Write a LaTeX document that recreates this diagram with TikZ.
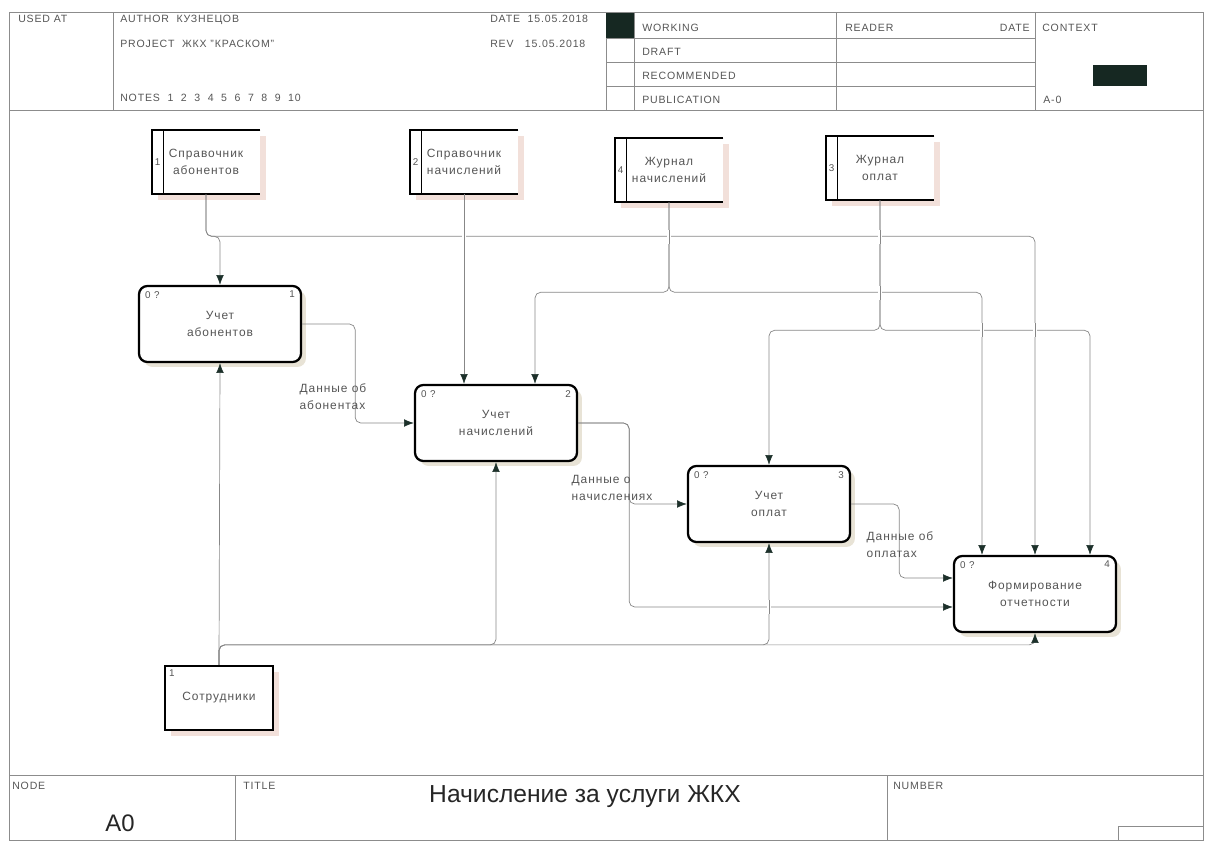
\documentclass[tikz,border=0pt]{standalone}
\usepackage{fontspec}
\setmainfont{Liberation Sans}[LetterSpace=8]
\newfontfamily\titlefont{Liberation Sans}
\usetikzlibrary{positioning, arrows.meta, calc, shadows}

\definecolor{linegray}{RGB}{135,135,135}
\definecolor{textgray}{RGB}{85,85,85}
\definecolor{tipcolor}{RGB}{28,48,42}
\definecolor{darkbox}{RGB}{22,40,34}
\definecolor{storeshade}{RGB}{242,224,218}
\definecolor{boxshade}{RGB}{232,227,214}

\begin{document}
\begin{tikzpicture}[
    x=0.025cm, y=-0.025cm,
    every node/.style={font=\fontsize{8.5}{12}\selectfont, text=textgray, inner sep=0pt},
    hdr/.style={font=\fontsize{7.5}{9}\selectfont, anchor=base west},
    idtag/.style={font=\fontsize{7}{8}\selectfont},
    sheet/.style={draw=black!45, line width=0.5pt},
    func/.style={draw=black, line width=1.6pt, rounded corners=6pt, fill=white,
                 minimum width=4.05cm, minimum height=1.9cm, align=center,
                 drop shadow={shadow xshift=3.5pt, shadow yshift=-3.5pt,
                              fill=boxshade, opacity=1}},
    store/.style={fill=white, minimum width=2.7cm, minimum height=1.6cm, align=center,
                  drop shadow={shadow xshift=4pt, shadow yshift=-4pt,
                               fill=storeshade, opacity=1}},
    ext/.style={store, draw=black, line width=1.6pt},
    flow/.style={draw=linegray, line width=0.5pt, rounded corners=4pt,
                 -{Latex[length=7pt, width=5.5pt, color=tipcolor]}},
    gap/.style={draw=linegray, line width=0.5pt,
                preaction={draw=white, line width=3pt}},
    lab/.style={align=left}
  ]
    \useasboundingbox (0,0) rectangle (1206,843);

    % sheet frame
    \draw[sheet] (9,12) rectangle (1203,840);
    \draw[sheet] (9,110) -- (1203,110);
    \draw[sheet] (113,12) -- (113,110);
    \draw[sheet] (606,12) -- (606,110);
    \draw[sheet] (634,12) -- (634,110);
    \draw[sheet] (836,12) -- (836,110);
    \draw[sheet] (1035,12) -- (1035,110);
    \foreach \y in {38,62,86}
      \draw[sheet] (606,\y) -- (1035,\y);
    \fill[darkbox] (606,13) rectangle (634,38);
    \fill[darkbox] (1093,65) rectangle (1147,86);
    \draw[sheet] (9,775) -- (1203,775);
    \draw[sheet] (235,775) -- (235,840);
    \draw[sheet] (887,775) -- (887,840);
    \draw[sheet] (1118,826) rectangle (1203,840);

    % header
    \node[hdr] (usedat) at (18,22) {USED AT};
    \node[hdr] (author) at (120,22) {AUTHOR\ \ КУЗНЕЦОВ};
    \node[hdr] (project) at (120,47) {PROJECT\ \ ЖКХ "КРАСКОМ"};
    \node[hdr] (notes) at (120,101) {NOTES\ \ 1\ \ 2\ \ 3\ \ 4\ \ 5\ \ 6\ \ 7\ \ 8\ \ 9\ \ 10};
    \node[hdr] (date) at (490,22) {DATE\ \ 15.05.2018};
    \node[hdr] (rev) at (490,47) {REV\ \ \ 15.05.2018};
    \node[hdr] (working) at (642,31) {WORKING};
    \node[hdr] (draft) at (642,55) {DRAFT};
    \node[hdr] (recom) at (642,79) {RECOMMENDED};
    \node[hdr] (publ) at (642,103) {PUBLICATION};
    \node[hdr] (reader) at (845,31) {READER};
    \node[hdr, anchor=base east] (rdate) at (1030,31) {DATE};
    \node[hdr] (context) at (1042,31) {CONTEXT};
    \node[hdr] (ctxnode) at (1043,103) {A-0};

    % footer
    \node[hdr] (nodelbl) at (12,789) {NODE};
    \node[hdr] (titlelbl) at (243,789) {TITLE};
    \node[hdr] (numlbl) at (893,789) {NUMBER};
    \node[font=\titlefont\fontsize{17.5}{20}\selectfont, text=black!85] (title) at (585,797)
        {Начисление за услуги ЖКХ};
    \node[font=\titlefont\fontsize{17}{20}\selectfont, text=black!85] (nodeno) at (120,823) {A0};

    % data stores
    \node[store] (s1) at (206,162) {Справочник\\абонентов};
    \node[store] (s2) at (464,162) {Справочник\\начислений};
    \node[store] (s4) at (669,170) {Журнал\\начислений};
    \node[store] (s3) at (880,168) {Журнал\\оплат};
    \foreach \s/\n in {s1/1, s2/2, s4/4, s3/3} {
      \draw[black, line width=1.6pt] (\s.north east) -- (\s.north west)
          -- (\s.south west) -- (\s.south east);
      \draw[black, line width=0.6pt] ($(\s.north west)+(12,0)$) -- ($(\s.south west)+(12,0)$);
      \node[idtag] (\s-no) at ($(\s.west)+(6,0)$) {\n};
    }

    % external entity
    \node[ext] (emp) at (219,698) {Сотрудники};
    \node[idtag, anchor=north west] (emp-no) at ($(emp.north west)+(5,5)$) {1};

    % activities
    \node[func] (A1) at (220,324) {Учет\\абонентов};
    \node[func] (A2) at (496,423) {Учет\\начислений};
    \node[func] (A3) at (769,504) {Учет\\оплат};
    \node[func] (A4) at (1035,594) {Формирование\\отчетности};
    \foreach \a/\n in {A1/1, A2/2, A3/3, A4/4} {
      \node[idtag, anchor=north west] (\a-id) at ($(\a.north west)+(7,6)$) {0 ?};
      \node[idtag, anchor=north east] (\a-no) at ($(\a.north east)+(-7,6)$) {\n};
    }

    % controls
    \draw[flow] (s1.south) -- ++(0,42) -| (A1.north);
    \draw[flow] (s1.south) -- ++(0,42) -| (A4.north);
    \draw[flow] (s2.south) -- (s2.south |- A2.north);
    \draw[flow] (s4.south) -- ++(0,90) -| ($(A2.north)+(39,0)$);
    \draw[flow] (s4.south) -- ++(0,90) -| ($(A4.north)+(-53,0)$);
    \draw[flow] (s3.south) -- ++(0,130) -| (A3.north);
    \draw[flow] (s3.south) -- ++(0,130) -| ($(A4.north)+(55,0)$);

    % outputs
    \draw[flow] (A1.east) -- ++(53,0) |- (A2.west);
    \draw[flow] (A2.east) -- ++(51,0) |- (A3.west);
    \draw[flow] (A2.east) -- ++(51,0) |- ($(A4.west)+(0,13)$);
    \draw[flow] (A3.east) -- ++(48,0) |- ($(A4.west)+(0,-16)$);

    % mechanisms
    \draw[flow] (emp.north) -- (A1.south);
    \draw[flow] (emp.north) -- ++(0,-20) -| (A2.south);
    \draw[flow] (emp.north) -- ++(0,-20) -| (A3.south);
    \draw[flow] (emp.north) -- ++(0,-20) -| (A4.south);

    % crossings
    \foreach \x/\y in {464/237, 669/237, 880/237, 880/293, 982/330, 1035/330, 769/607}
      \draw[gap] (\x,\y-7) -- (\x,\y+7);

    % arrow labels
    \node[lab] (l1) at (333,397) {Данные об\\абонентах};
    \node[lab] (l2) at (612,488) {Данные о\\начислениях};
    \node[lab] (l3) at (900,545) {Данные об\\оплатах};
  \end{tikzpicture}
\end{document}
